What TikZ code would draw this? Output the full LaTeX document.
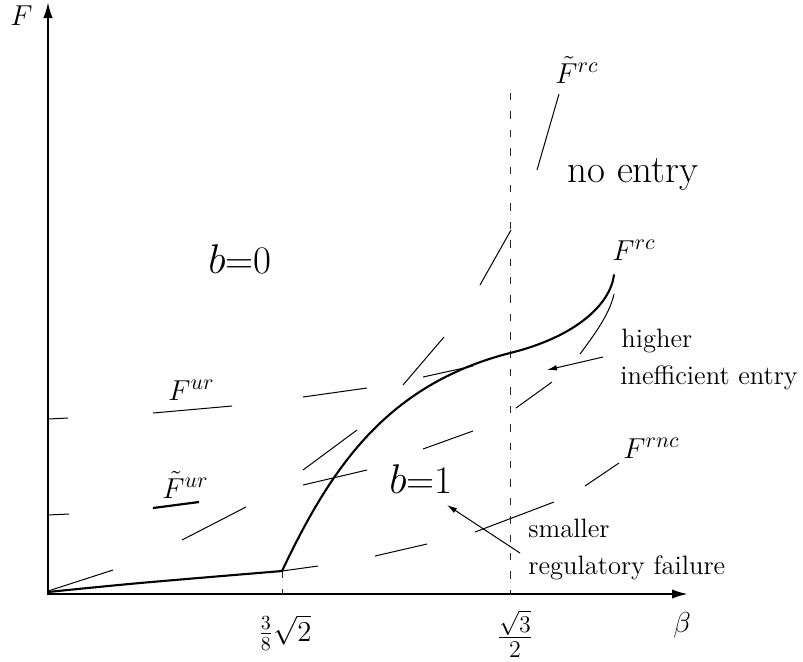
\documentclass[tikz,border=0pt]{standalone}
\usetikzlibrary{arrows.meta}
\begin{document}
\begin{tikzpicture}[x=0.5pt,y=-0.5pt,
  axis/.style={line width=1.1pt,{Latex[length=8pt,width=4.7pt]}-{Latex[length=8pt,width=4.7pt]}},
  mainc/.style={line width=1.05pt,line join=round,line cap=round},
  thinc/.style={line width=0.5pt},
  vdash/.style={line width=0.45pt,black!85,dash pattern=on 3.7pt off 5.5pt},
  ann/.style={line width=0.5pt,-{Latex[length=5pt,width=2.8pt]}},
  lbl/.style={inner sep=0pt,anchor=base west},
  fl/.style={lbl,font=\fontsize{15}{18}\selectfont},
  big/.style={lbl,font=\fontsize{19.5}{22}\selectfont},
  small/.style={lbl,font=\fontsize{13.3}{15}\selectfont}]
\useasboundingbox (0,0) rectangle (803,661);
% axes
\coordinate (ytop) at (48,2);
\coordinate (O) at (48,594);
\coordinate (xend) at (688,594);
\draw[axis] (ytop) -- (O) -- (xend);
\node[fl] (Flab) at (10,25) {$F$};
\node[inner sep=0pt,font=\fontsize{15}{18}\selectfont] (blab) at (682,625) {$\beta$};
% ticks
\coordinate (t1) at (282,571);
\coordinate (t1b) at (282,594);
\coordinate (t2) at (510,93);
\coordinate (t2b) at (510,594);
\draw[vdash] (t1) -- (t1b);
\draw[vdash] (t2) -- (t2b);
\node[inner sep=0pt,font=\fontsize{14.5}{16}\selectfont] (x1) at (285,633) {$\frac{3}{8}\sqrt{2}$};
\node[inner sep=0pt,font=\fontsize{16.5}{18}\selectfont] (x2) at (515,634) {$\frac{\sqrt{3}}{2}$};
% main thick curve
\coordinate (k) at (282,571);
\coordinate (m) at (510,353);
\coordinate (e) at (614,275);
\draw[mainc] plot[smooth,tension=0.5] coordinates {(48,592) (140,583) (282,571)};
\draw[mainc] (k) .. controls (330,470) and (385,385) .. (m)
                 .. controls (575,337) and (610,305) .. (e);
% F^ur dashes
\draw[thinc] (48,419) -- (68,418);
\draw[thinc] (153,413) -- (232,406);
\draw[thinc] (303,397) -- (367,388);
\draw[thinc] (423,377) -- (473,366);
% tilde F^ur dashes (lower F^rc)
\draw[thinc] (48,515) -- (69,514);
\draw[line width=1.1pt] (153,508) -- (199,502);
\draw[thinc] (303,485) -- (367,470);
\draw[thinc] (423,449) -- (473,431);
\draw[thinc] (516,408) -- (552,382);
\draw[thinc] (580,354) .. controls (598,330) and (610,312) .. (614,294);
% tilde F^rc dashes
\draw[thinc] (48,591) -- (113,570);
\draw[thinc] (182,540) -- (246,507);
\draw[thinc] (303,470) -- (357,430);
\draw[thinc] (403,385) -- (444,337);
\draw[thinc] (480,285) -- (511,230);
\draw[thinc] (537,170) -- (559,94);
% F^rnc dashes
\draw[thinc] (282,571) -- (318,566);
\draw[thinc] (375,556) -- (427,544);
\draw[thinc] (475,532) -- (554,502);
\draw[thinc] (585,486) -- (619,463);
% labels
\node[fl] (Ftrc) at (555,83) {$\tilde F^{rc}$};
\node[fl] (Frc) at (612,260) {$F^{rc}$};
\node[fl] (Frnc) at (623,458) {$F^{rnc}$};
\node[fl] (Fur) at (168,400) {$F^{ur}$};
\node[fl] (Ftur) at (162,498) {$\tilde F^{ur}$};
\node[big] (b0) at (208,273) {$b$=0};
\node[big] (b1) at (389,493) {$b$=1};
\node[lbl,font=\fontsize{19.5}{22}\selectfont] (ne) at (567,182) {no entry};
\node[small] (h1) at (621,347) {higher};
\node[small] (h2) at (620,384) {inefficient entry};
\node[small] (s1) at (528,537) {smaller};
\node[small] (s2) at (528,574) {regulatory failure};
% annotation arrows
\coordinate (a1s) at (603,357);
\coordinate (a1e) at (547,370);
\coordinate (a2s) at (520,553);
\coordinate (a2e) at (447,505);
\draw[ann] (a1s) -- (a1e);
\draw[ann] (a2s) -- (a2e);
\end{tikzpicture}
\end{document}
